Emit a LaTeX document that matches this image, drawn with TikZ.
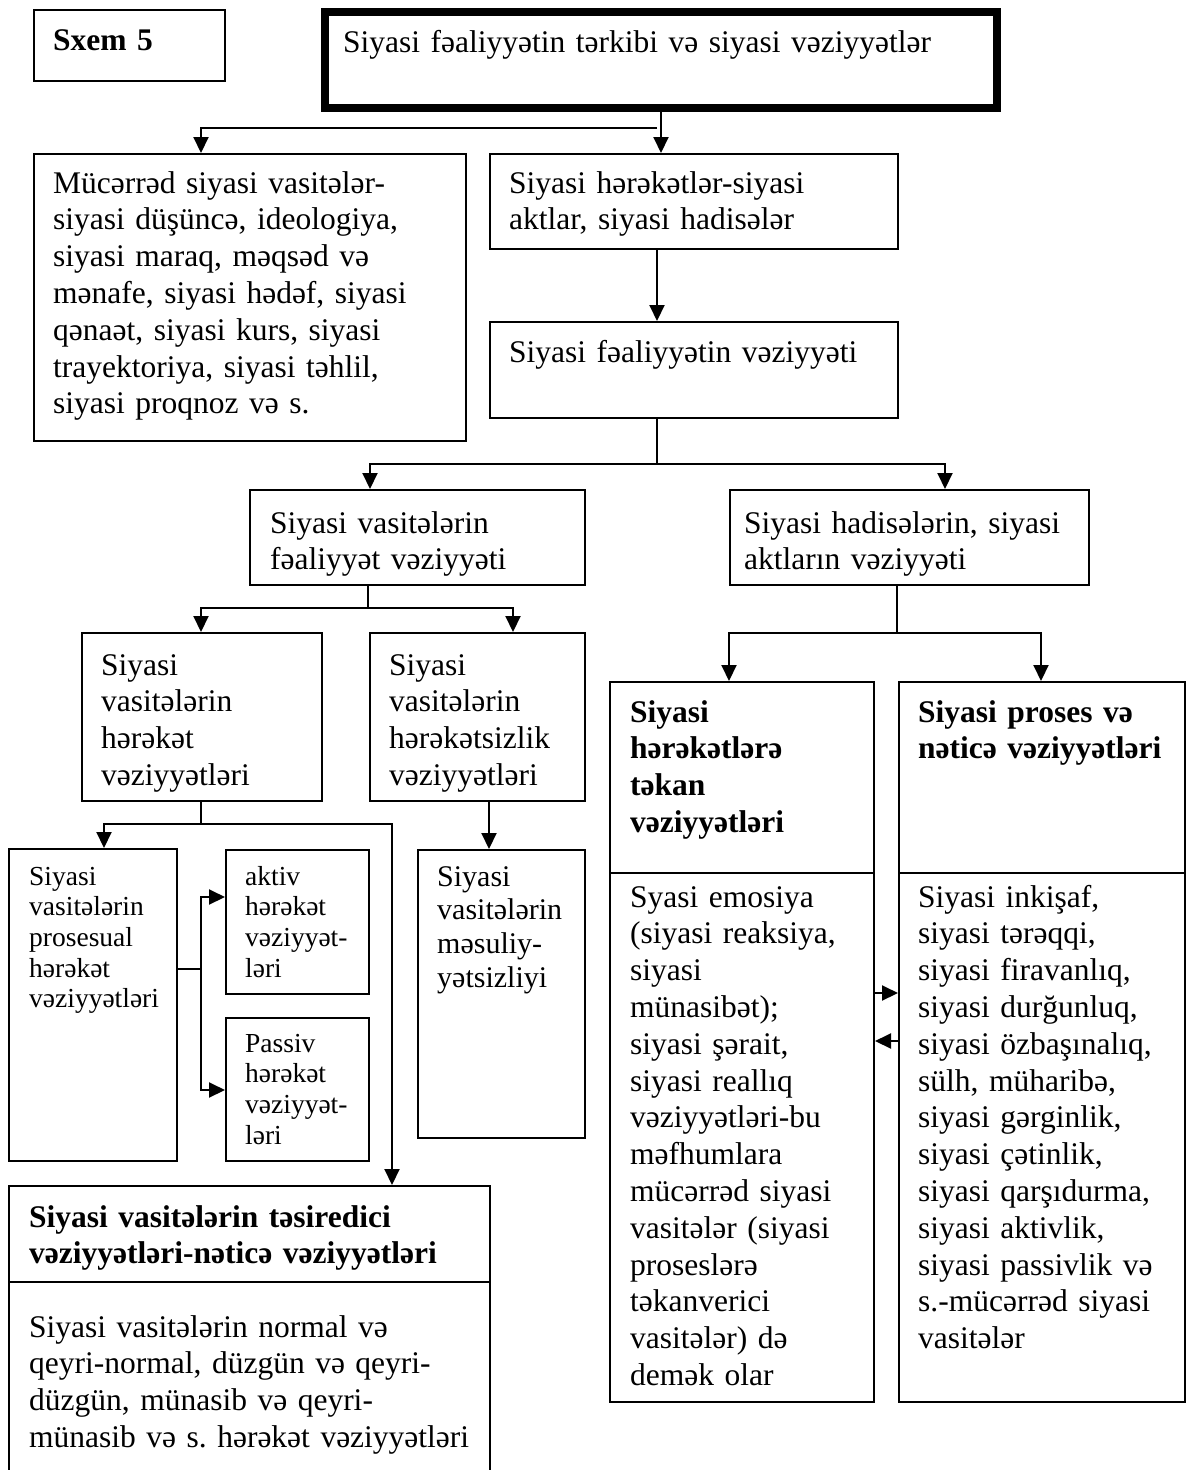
\documentclass[tikz,border=0pt]{standalone}
\usepackage{fontspec}
\setmainfont{Liberation Serif}
\usetikzlibrary{arrows.meta}
\frenchspacing

\begin{document}
\begin{tikzpicture}
[x=1pt, y=-1pt,
  boxDecorate/.style={draw, line width=2pt, inner sep=0pt, anchor=north west},
  lineDecorate/.style={-, line width=2pt},
  arrowDecorate/.style={-{Triangle[width=15pt,length=16pt]}, line width=2pt},
  textDecorate/.style={anchor=base west, inner sep=0pt, text width=40cm,
    align=left, font=\fontsize{31.5}{36.8}\selectfont},
  boldDecorate/.style={textDecorate, font=\fontsize{31.5}{36.8}\selectfont\bfseries},
  smallDecorate/.style={textDecorate, font=\fontsize{27.5}{30.7}\selectfont},
  midDecorate/.style={textDecorate, font=\fontsize{30}{33.7}\selectfont}]
\useasboundingbox (0,0) rectangle (1186,1470);
%% boxes
\foreach \nodename/\xa/\ya/\xb/\yb
  [evaluate=\xa as \bw using \xb-\xa, evaluate=\ya as \bh using \yb-\ya] in {
  sxem/33/9/224/80,
  mucerred/33/153/465/440,
  hereket/489/153/897/248,
  feal/489/321/897/417,
  vasfeal/249/489/584/584,
  hadis/729/489/1088/584,
  harvez/81/632/321/800,
  harsiz/369/632/584/800,
  prosesual/8/848/176/1160,
  aktiv/225/849/368/993,
  passiv/225/1017/368/1160,
  mesul/417/849/584/1137,
  tesir-h/8/1185/489/1281,
  tesir-b/8/1281/489/1490,
  teken-h/609/681/873/872,
  teken-b/609/872/873/1401,
  netice-h/898/681/1184/872,
  netice-b/898/872/1184/1401}
{
  \node[boxDecorate, minimum width=\bw pt, minimum height=\bh pt] (\nodename) at (\xa,\ya) {};
}
\node[boxDecorate, line width=8pt, minimum width=672pt, minimum height=96pt] (title) at (321,8) {};
%% texts
\node[boldDecorate] (sxem-t) at ([shift={(20,41)}]sxem.north west) {Sxem 5};
\node[textDecorate] (title-t) at ([shift={(22,44)}]title.north west)
  {Siyasi fəaliyyətin tərkibi və siyasi vəziyyətlər};
\node[textDecorate] (mucerred-t) at ([shift={(20,40)}]mucerred.north west)
  {Mücərrəd siyasi vasitələr-\\siyasi düşüncə, ideologiya,\\siyasi maraq, məqsəd və\\mənafe, siyasi hədəf, siyasi\\qənaət, siyasi kurs, siyasi\\trayektoriya, siyasi təhlil,\\siyasi proqnoz və s.};
\node[textDecorate] (hereket-t) at ([shift={(20,40)}]hereket.north west)
  {Siyasi hərəkətlər-siyasi\\aktlar, siyasi hadisələr};
\node[textDecorate] (feal-t) at ([shift={(20,41)}]feal.north west)
  {Siyasi fəaliyyətin vəziyyəti};
\node[textDecorate] (vasfeal-t) at ([shift={(21,44)}]vasfeal.north west)
  {Siyasi vasitələrin\\fəaliyyət vəziyyəti};
\node[textDecorate] (hadis-t) at ([shift={(15,44)}]hadis.north west)
  {Siyasi hadisələrin, siyasi\\aktların vəziyyəti};
\node[textDecorate] (harvez-t) at ([shift={(20,43)}]harvez.north west)
  {Siyasi\\vasitələrin\\hərəkət\\vəziyyətləri};
\node[textDecorate] (harsiz-t) at ([shift={(20,43)}]harsiz.north west)
  {Siyasi\\vasitələrin\\hərəkətsizlik\\vəziyyətləri};
\node[smallDecorate] (prosesual-t) at ([shift={(21,37)}]prosesual.north west)
  {Siyasi\\vasitələrin\\prosesual\\hərəkət\\vəziyyətləri};
\node[smallDecorate] (aktiv-t) at ([shift={(20,36)}]aktiv.north west)
  {aktiv\\hərəkət\\vəziyyət-\\ləri};
\node[smallDecorate] (passiv-t) at ([shift={(20,35)}]passiv.north west)
  {Passiv\\hərəkət\\vəziyyət-\\ləri};
\node[midDecorate] (mesul-t) at ([shift={(20,37)}]mesul.north west)
  {Siyasi\\vasitələrin\\məsuliy-\\yətsizliyi};
\node[boldDecorate] (tesir-ht) at ([shift={(21,42)}]tesir-h.north west)
  {Siyasi vasitələrin təsiredici\\vəziyyətləri-nəticə vəziyyətləri};
\node[textDecorate] (tesir-bt) at ([shift={(21,56)}]tesir-b.north west)
  {Siyasi vasitələrin normal və\\qeyri-normal, düzgün və qeyri-\\düzgün, münasib və qeyri-\\münasib və s. hərəkət vəziyyətləri};
\node[boldDecorate] (teken-ht) at ([shift={(21,41)}]teken-h.north west)
  {Siyasi\\hərəkətlərə\\təkan\\vəziyyətləri};
\node[textDecorate] (teken-bt) at ([shift={(21,35)}]teken-b.north west)
  {Syasi emosiya\\(siyasi reaksiya,\\siyasi\\münasibət);\\siyasi şərait,\\siyasi reallıq\\vəziyyətləri-bu\\məfhumlara\\mücərrəd siyasi\\vasitələr (siyasi\\proseslərə\\təkanverici\\vasitələr) də\\demək olar};
\node[boldDecorate] (netice-ht) at ([shift={(20,41)}]netice-h.north west)
  {Siyasi proses və\\nəticə vəziyyətləri};
\node[textDecorate] (netice-bt) at ([shift={(20,35)}]netice-b.north west)
  {Siyasi inkişaf,\\siyasi tərəqqi,\\siyasi firavanlıq,\\siyasi durğunluq,\\siyasi özbaşınalıq,\\sülh, müharibə,\\siyasi gərginlik,\\siyasi çətinlik,\\siyasi qarşıdurma,\\siyasi aktivlik,\\siyasi passivlik və\\s.-mücərrəd siyasi\\vasitələr};
%% junctions
\coordinate (j1) at (657,128);
\coordinate (j2) at (657,464);
\coordinate (j3) at (368,608);
\coordinate (j4) at (897,633);
\coordinate (j5) at (201,824);
\coordinate (j6) at (201,969);
%% edges or lines
\draw[arrowDecorate] (title.south) -- (title.south |- hereket.north);
\draw[arrowDecorate] (j1) -| (201,0 |- mucerred.north);
\draw[arrowDecorate] (j1 |- hereket.south) -- (j1 |- feal.north);
\draw[lineDecorate] (j1 |- feal.south) -- (j2);
\draw[arrowDecorate] (j2) -| (370,0 |- vasfeal.north);
\draw[arrowDecorate] (j2) -| (945,0 |- hadis.north);
\draw[lineDecorate] (j3 |- vasfeal.south) -- (j3);
\draw[arrowDecorate] (j3) -| (201,0 |- harvez.north);
\draw[arrowDecorate] (j3) -| (513,0 |- harsiz.north);
\draw[lineDecorate] (j4 |- hadis.south) -- (j4);
\draw[arrowDecorate] (j4) -| (729,0 |- teken-h.north);
\draw[arrowDecorate] (j4) -| (1041,0 |- netice-h.north);
\draw[lineDecorate] (j5 |- harvez.south) -- (j5);
\draw[arrowDecorate] (j5) -| (104,0 |- prosesual.north);
\draw[arrowDecorate] (j5) -| (392,0 |- tesir-h.north);
\draw[arrowDecorate] (489,0 |- harsiz.south) -- (489,0 |- mesul.north);
\draw[lineDecorate] (prosesual.east |- j6) -- (j6);
\draw[arrowDecorate] (j6) |- (aktiv.west |- 0,897);
\draw[arrowDecorate] (j6) |- (passiv.west |- 0,1090);
\draw[arrowDecorate] (teken-b.east |- 0,993) -- (netice-b.west |- 0,993);
\draw[arrowDecorate] (netice-b.west |- 0,1041) -- (teken-b.east |- 0,1041);
\end{tikzpicture}
\end{document}
